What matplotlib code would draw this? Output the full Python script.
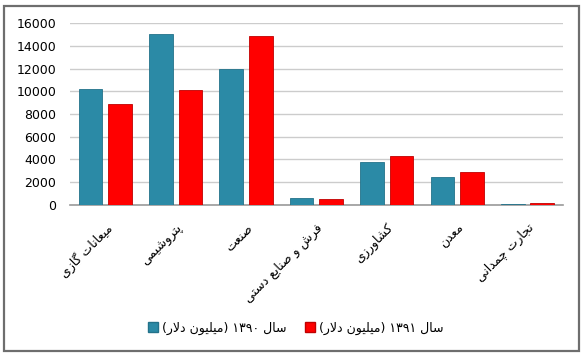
import re
import matplotlib
matplotlib.use('Agg')
import matplotlib.pyplot as plt
from matplotlib.patches import Rectangle, Patch

# Data (million dollars)
categories = ['میعانات گازی', 'پتروشیمی', 'صنعت', 'فرش و صنایع دستی',
              'کشاورزی', 'معدن', 'تجارت چمدانی']
values_1390 = [10200, 15050, 12000, 620, 3750, 2450, 60]
values_1391 = [8900, 10100, 14850, 500, 4300, 2900, 120]
series_names = ['سال ۱۳۹۰ (میلیون دلار)', 'سال ۱۳۹۱ (میلیون دلار)']
y_ticks = [0, 2000, 4000, 6000, 8000, 10000, 12000, 14000, 16000]

# Minimal Persian shaping: matplotlib has no bidi / joining support
BASE = {'ا': 0xFE8D, 'آ': 0xFE81, 'ب': 0xFE8F, 'پ': 0xFB56, 'ت': 0xFE95,
        'ث': 0xFE99, 'ج': 0xFE9D, 'چ': 0xFB7A, 'ح': 0xFEA1, 'خ': 0xFEA5,
        'د': 0xFEA9, 'ذ': 0xFEAB, 'ر': 0xFEAD, 'ز': 0xFEAF, 'ژ': 0xFB8A,
        'س': 0xFEB1, 'ش': 0xFEB5, 'ص': 0xFEB9, 'ض': 0xFEBD, 'ط': 0xFEC1,
        'ظ': 0xFEC5, 'ع': 0xFEC9, 'غ': 0xFECD, 'ف': 0xFED1, 'ق': 0xFED5,
        'ک': 0xFB8E, 'گ': 0xFB92, 'ل': 0xFEDD, 'م': 0xFEE1, 'ن': 0xFEE5,
        'و': 0xFEED, 'ه': 0xFEE9, 'ی': 0xFBFC}
RIGHT_ONLY = set('اآدذرزژو')


def fa(text):
    """Shape Persian letters and return them in visual (LTR) order."""
    out = []
    i = 0
    n = len(text)
    while i < n:
        c = text[i]
        if c not in BASE:
            out.append(c)
            i += 1
            continue
        prev = text[i - 1] if i > 0 else None
        joins_prev = prev in BASE and prev not in RIGHT_ONLY
        # lam-alef ligature
        if c == 'ل' and i + 1 < n and text[i + 1] == 'ا':
            out.append('\uFEFC' if joins_prev else '\uFEFB')
            i += 2
            continue
        nxt = text[i + 1] if i + 1 < n else None
        joins_next = c not in RIGHT_ONLY and nxt in BASE
        if joins_prev and joins_next:
            k = 3
        elif joins_prev:
            k = 1
        elif joins_next:
            k = 2
        else:
            k = 0
        out.append(chr(BASE[c] + k))
        i += 1
    s = ''.join(out)[::-1]
    s = s.translate({ord('('): ')', ord(')'): '('})
    s = re.sub(r'[0-9\u06F0-\u06F9]+', lambda m: m.group(0)[::-1], s)
    return s


plt.rcParams['font.family'] = ['DejaVu Sans']

teal = '#2b8aa6'
red = '#ff0000'

fig = plt.figure(figsize=(5.84, 3.56), dpi=100)
fig.patch.set_facecolor('white')

# Outer frame
fig.patches.append(Rectangle((4 / 584, 5 / 356), 575 / 584, 345 / 356,
                             transform=fig.transFigure, fill=False,
                             edgecolor='#6e6e6e', linewidth=1.6))

ax = fig.add_axes([70 / 584, 1 - 204.7 / 356, 492.7 / 584, 181.4 / 356])

x = list(range(len(categories)))
w = 0.335
off = 0.21
ax.bar([i - off for i in x], values_1390, width=w, color=teal,
       edgecolor='#23728a', linewidth=0.6, zorder=3)
ax.bar([i + off for i in x], values_1391, width=w, color=red,
       edgecolor='#c00000', linewidth=0.6, zorder=3)

ax.set_xlim(-0.5, len(categories) - 0.5)
ax.set_ylim(0, 16000)
ax.set_yticks(y_ticks)
ax.set_yticklabels([str(v) for v in y_ticks], fontsize=9)
ax.grid(axis='y', color='#cccccc', linewidth=1, zorder=0)
ax.set_axisbelow(True)

for s in ['top', 'right', 'left']:
    ax.spines[s].set_visible(False)
ax.spines['bottom'].set_color('#9a9a9a')
ax.spines['bottom'].set_linewidth(1.2)
ax.tick_params(axis='both', length=0)
ax.tick_params(axis='y', pad=10)

ax.set_xticks(x)
ax.set_xticklabels([fa(c) for c in categories], rotation=45, ha='right',
                   rotation_mode='anchor', fontsize=9)
ax.tick_params(axis='x', pad=12)

handles = [Patch(facecolor=teal, edgecolor='#23728a'),
           Patch(facecolor=red, edgecolor='#c00000')]
fig.legend(handles, [fa(n) for n in series_names], loc='center',
           bbox_to_anchor=(296 / 584, 1 - 328 / 356), ncol=2, frameon=False,
           fontsize=9, handlelength=0.8, handleheight=0.8, handletextpad=0.3,
           columnspacing=1.5)

fig.savefig('out.png', dpi=100)
